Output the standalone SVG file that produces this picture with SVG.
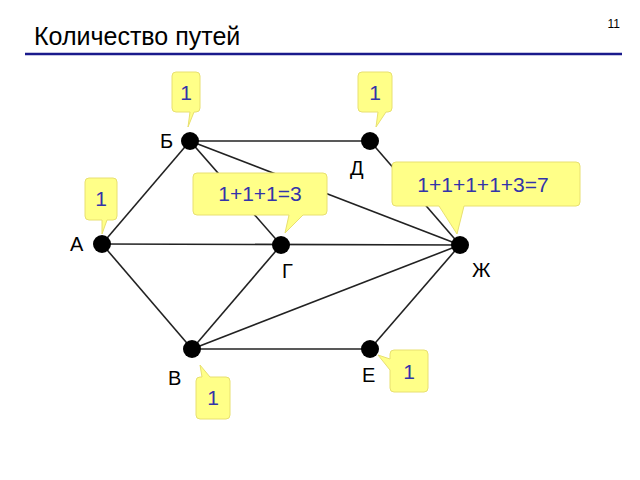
<svg xmlns="http://www.w3.org/2000/svg" width="640" height="480" viewBox="0 0 640 480">
<style>
.e{stroke:#222;stroke-width:1.6;fill:none}
.n{fill:#000}
.lb{font-family:"Liberation Sans",Arial,sans-serif;font-size:20px;fill:#000}
.c{fill:#ffff88;stroke:#e8e070;stroke-width:1}
.ct{font-family:"Liberation Sans",Arial,sans-serif;font-size:21px;fill:#3333aa;text-anchor:middle}
</style>
<rect width="640" height="480" fill="#fff"/>
<text x="34" y="45" font-family="Liberation Sans,Arial,sans-serif" font-size="25" fill="#000">Количество путей</text>
<text x="620" y="28" font-family="Liberation Sans,Arial,sans-serif" font-size="12" text-anchor="end">11</text>
<line x1="25" y1="54" x2="622" y2="54" stroke="#1a1a8c" stroke-width="2.5"/>
<g id="edges">
<line class="e" x1="190" y1="141" x2="370" y2="141"/>
<line class="e" x1="190" y1="141" x2="102" y2="244"/>
<line class="e" x1="190" y1="141" x2="281" y2="245"/>
<line class="e" x1="190" y1="141" x2="460" y2="245"/>
<line class="e" x1="370" y1="141" x2="460" y2="245"/>
<line class="e" x1="102" y1="244" x2="460" y2="245"/>
<line class="e" x1="102" y1="244" x2="192" y2="349"/>
<line class="e" x1="281" y1="245" x2="192" y2="349"/>
<line class="e" x1="192" y1="349" x2="460" y2="245"/>
<line class="e" x1="192" y1="349" x2="370" y2="349"/>
<line class="e" x1="370" y1="349" x2="460" y2="245"/>
</g>
<g id="nodeB"><circle class="n" cx="190" cy="141" r="9"/><text class="lb" x="160" y="148">Б</text></g>
<g id="nodeD"><circle class="n" cx="370" cy="141" r="9"/><text class="lb" x="350" y="175">Д</text></g>
<g id="nodeA"><circle class="n" cx="102" cy="244" r="9"/><text class="lb" x="70" y="251">А</text></g>
<g id="nodeG"><circle class="n" cx="281" cy="245" r="9"/><text class="lb" x="282" y="278">Г</text></g>
<g id="nodeZh"><circle class="n" cx="460" cy="245" r="9"/><text class="lb" x="472" y="277">Ж</text></g>
<g id="nodeV"><circle class="n" cx="192" cy="349" r="9"/><text class="lb" x="168" y="385">В</text></g>
<g id="nodeE"><circle class="n" cx="370" cy="349" r="9"/><text class="lb" x="362" y="382">Е</text></g>
<g id="callouts">
<path class="c" d="M176 72h20a4 4 0 0 1 4 4v32a4 4 0 0 1-4 4h-2l-6 15l2-15h-14a4 4 0 0 1-4-4v-32a4 4 0 0 1 4-4z"/>
<text class="ct" x="186" y="100">1</text>
<path class="c" d="M362 72h26a4 4 0 0 1 4 4v32a4 4 0 0 1-4 4h-2l-10 15l2-15h-16a4 4 0 0 1-4-4v-32a4 4 0 0 1 4-4z"/>
<text class="ct" x="375" y="100">1</text>
<path class="c" d="M89 178h24a4 4 0 0 1 4 4v34a4 4 0 0 1-4 4h-6l-5 14l0-14h-13a4 4 0 0 1-4-4v-34a4 4 0 0 1 4-4z"/>
<text class="ct" x="101" y="206">1</text>
<path class="c" d="M197 173h126a4 4 0 0 1 4 4v34a4 4 0 0 1-4 4h-20l-18 18l4-18h-92a4 4 0 0 1-4-4v-34a4 4 0 0 1 4-4z"/>
<text class="ct" x="260" y="201">1+1+1=3</text>
<path class="c" d="M396 162h180a4 4 0 0 1 4 4v36a4 4 0 0 1-4 4h-112l-7 28l-18-28h-43a4 4 0 0 1-4-4v-36a4 4 0 0 1 4-4z"/>
<text class="ct" x="483" y="192">1+1+1+1+3=7</text>
<path class="c" d="M394 350h30a4 4 0 0 1 4 4v34a4 4 0 0 1-4 4h-30a4 4 0 0 1-4-4v-18l-12-15l12 4v-5a4 4 0 0 1 4-4z"/>
<text class="ct" x="409" y="379">1</text>
<path class="c" d="M200 377h2l-2-12l10 12h16a4 4 0 0 1 4 4v34a4 4 0 0 1-4 4h-26a4 4 0 0 1-4-4v-34a4 4 0 0 1 4-4z"/>
<text class="ct" x="213" y="405">1</text>
</g>
</svg>
